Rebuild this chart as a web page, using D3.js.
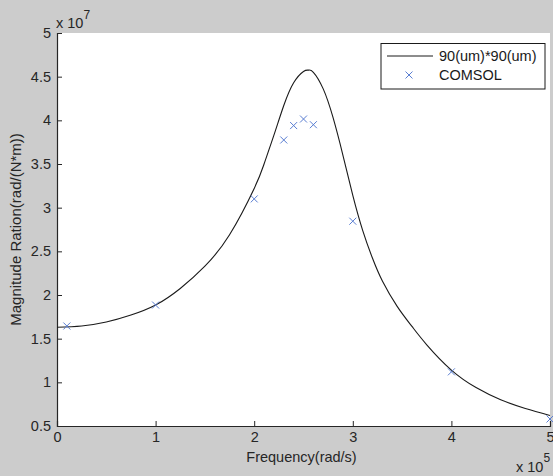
<!DOCTYPE html>
<html>
<head>
<meta charset="utf-8">
<script src="https://cdn.jsdelivr.net/npm/d3@7"></script>
<style>
  body { margin: 0; background: #cccccc; }
  svg { display: block; font-family: "Liberation Sans", Arial, sans-serif; }
</style>
</head>
<body>
<svg width="553" height="476"></svg>
<script>

// model curve, frequency in 1e5 rad/s, magnitude in 1e7
var curveFreq = [0, 0.25, 0.5, 0.75, 1.0, 1.25, 1.5, 1.75, 2.0, 2.1, 2.2, 2.3, 2.4, 2.5, 2.55,
  2.6, 2.7, 2.8, 2.9, 3.0, 3.1, 3.2, 3.3, 3.45, 3.6, 3.75, 4.0, 4.25, 4.5, 4.75, 5.0];
var curveMag = [1.63, 1.645, 1.69, 1.77, 1.885, 2.075, 2.33, 2.69, 3.22, 3.50, 3.83, 4.17, 4.43, 4.56, 4.575,
  4.55, 4.36, 4.03, 3.60, 3.14, 2.74, 2.42, 2.16, 1.87, 1.64, 1.43, 1.14, 0.94, 0.80, 0.70, 0.62];

// COMSOL points
var comsolFreq = [0.1, 1.0, 2.0, 2.3, 2.4, 2.5, 2.6, 3.0, 4.0, 5.0];
var comsolMag = [1.645, 1.885, 3.10, 3.775, 3.94, 4.015, 3.95, 2.845, 1.12, 0.58];

var xTicks = [0, 1, 2, 3, 4, 5];
var yTicks = [0.5, 1, 1.5, 2, 2.5, 3, 3.5, 4, 4.5, 5];
var legendNames = ["90(um)*90(um)", "COMSOL"];

var svg = d3.select("svg"),
  width = +svg.attr("width"),
  height = +svg.attr("height");

var plotL = 57, plotR = 550, plotT = 33, plotB = 426;
var fs = "14.5px";

var x = d3.scaleLinear().domain([0, 5]).range([plotL, plotR]);
var y = d3.scaleLinear().domain([0.5, 5]).range([plotB, plotT]);

svg.append("rect")
  .attr("width", width)
  .attr("height", height)
  .attr("fill", "#cccccc");

svg.append("rect")
  .attr("x", plotL)
  .attr("y", plotT)
  .attr("width", plotR - plotL)
  .attr("height", plotB - plotT)
  .attr("fill", "#ffffff");

// axes, ticks pointing inward
var xAxis = svg.append("g")
  .attr("transform", "translate(0," + plotB + ")")
  .call(d3.axisBottom(x).tickValues(xTicks).tickSize(-5).tickPadding(6).tickFormat(d3.format("d")));

var yAxis = svg.append("g")
  .attr("transform", "translate(" + plotL + ",0)")
  .call(d3.axisLeft(y).tickValues(yTicks).tickSize(-5).tickPadding(6).tickFormat(function(d) { return d; }));

[xAxis, yAxis].forEach(function(a) {
  a.select(".domain").attr("stroke", "#262626").attr("stroke-width", 1.2);
  a.selectAll(".tick line").attr("stroke", "#262626");
  a.selectAll(".tick text").attr("fill", "#262626").style("font-size", fs).style("font-family", "Liberation Sans, Arial, sans-serif");
});

// exponent labels
var ex1 = svg.append("text").attr("x", 56).attr("y", 28).attr("fill", "#262626").style("font-size", fs);
ex1.append("tspan").text("x 10");
ex1.append("tspan").attr("dy", -9).style("font-size", "12px").text("7");

var ex2 = svg.append("text").attr("x", 516).attr("y", 472).attr("fill", "#262626").style("font-size", fs);
ex2.append("tspan").text("x 10");
ex2.append("tspan").attr("dy", -10).style("font-size", "12px").text("5");

// axis titles
svg.append("text")
  .attr("x", 301.5)
  .attr("y", 462)
  .attr("text-anchor", "middle")
  .attr("fill", "#262626")
  .style("font-size", fs)
  .text("Frequency(rad/s)");

svg.append("text")
  .attr("transform", "translate(20.5," + ((plotT + plotB) / 2) + ") rotate(-90)")
  .attr("text-anchor", "middle")
  .attr("fill", "#262626")
  .style("font-size", "15px")
  .text("Magnitude Ration(rad/(N*m))");

// model line
var line = d3.line()
  .x(function(d, i) { return x(curveFreq[i]); })
  .y(function(d) { return y(d); })
  .curve(d3.curveNatural);

svg.append("path")
  .datum(curveMag)
  .attr("d", line)
  .attr("fill", "none")
  .attr("stroke", "#1a1a1a")
  .attr("stroke-width", 1.1);

// cross markers
function cross(g, cx, cy, r) {
  g.append("path")
    .attr("d", "M" + (cx - r) + "," + (cy - r) + "L" + (cx + r) + "," + (cy + r) +
      "M" + (cx - r) + "," + (cy + r) + "L" + (cx + r) + "," + (cy - r))
    .attr("stroke", "#5a7ed2")
    .attr("stroke-width", 1)
    .attr("fill", "none");
}

var pts = svg.append("g").attr("class", "comsol");
comsolMag.forEach(function(m, i) {
  cross(pts, x(comsolFreq[i]), y(m), 3.5);
});

// legend
var legend = svg.append("g").attr("class", "legend");
legend.append("rect")
  .attr("x", 381).attr("y", 43.5)
  .attr("width", 164).attr("height", 45.5)
  .attr("fill", "#ffffff")
  .attr("stroke", "#1a1a1a");

legend.append("line")
  .attr("x1", 387).attr("x2", 433)
  .attr("y1", 56).attr("y2", 56)
  .attr("stroke", "#1a1a1a");
cross(legend, 409, 75, 3.5);

legend.selectAll(".lg-text")
  .data(legendNames)
  .enter().append("text")
  .attr("class", "lg-text")
  .attr("x", 439)
  .attr("y", function(d, i) { return 60.5 + i * 19; })
  .attr("fill", "#1a1a1a")
  .style("font-size", fs)
  .text(function(d) { return d; });

</script>
</body>
</html>
